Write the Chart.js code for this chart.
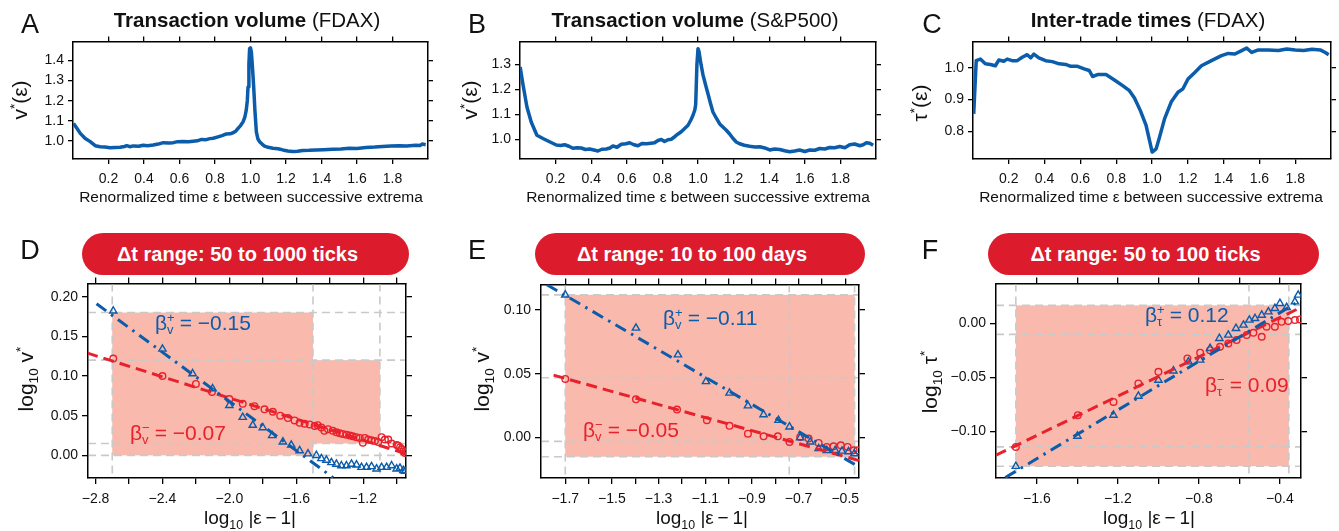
<!DOCTYPE html>
<html>
<head>
<meta charset="utf-8">
<script src="https://cdn.jsdelivr.net/npm/chart.js@4.4.1/dist/chart.umd.min.js"></script>
<style>
  body { margin: 0; background: #fff; }
  #fig { position: relative; width: 1339px; height: 531px; overflow: hidden; font-family: "Liberation Sans", Arial, sans-serif; color: #111; }
  #fig canvas { position: absolute; }
  .lbl { position: absolute; white-space: nowrap; transform: translate(-50%, -50%); }
  .letter { font-size: 27px; }
  .title { font-size: 20.5px; }
  .xt { font-size: 15.5px; }
  .xt2 { font-size: 19px; }
  .yt { font-size: 21px; transform: translate(-50%, -50%) rotate(-90deg); }
  .pill { position: absolute; height: 42px; border-radius: 21px; background: #dc1b2d; color: #fff; font-weight: bold; font-size: 20px; line-height: 42px; text-align: center; box-sizing: border-box; padding-right: 16px; }
  .ann { position: absolute; white-space: nowrap; font-size: 21px; transform: translateY(-50%); }
  .ss { display: inline-block; vertical-align: middle; font-size: 0.62em; line-height: 0.95; text-align: left; margin-right: 5px; }
  .ss span { display: block; }
  sub, sup { font-size: 0.65em; line-height: 0; }
</style>
</head>
<body>
<div id="fig">
  <canvas id="cA"></canvas>
  <canvas id="cB"></canvas>
  <canvas id="cC"></canvas>
  <canvas id="cD"></canvas>
  <canvas id="cE"></canvas>
  <canvas id="cF"></canvas>

  <div class="lbl letter" style="left:30px;top:24px">A</div>
  <div class="lbl letter" style="left:477px;top:24px">B</div>
  <div class="lbl letter" style="left:932px;top:24px">C</div>
  <div class="lbl letter" style="left:30px;top:250px">D</div>
  <div class="lbl letter" style="left:477px;top:250px">E</div>
  <div class="lbl letter" style="left:930px;top:250px">F</div>

  <div class="lbl title" style="left:247px;top:20px"><b>Transaction volume</b> (FDAX)</div>
  <div class="lbl title" style="left:695px;top:20px"><b>Transaction volume</b> (S&amp;P500)</div>
  <div class="lbl title" style="left:1148px;top:20px"><b>Inter-trade times</b> (FDAX)</div>

  <div class="lbl xt" style="left:251px;top:197px">Renormalized time ε between successive extrema</div>
  <div class="lbl xt" style="left:698px;top:197px">Renormalized time ε between successive extrema</div>
  <div class="lbl xt" style="left:1151px;top:197px">Renormalized time ε between successive extrema</div>

  <div class="lbl yt" style="left:20px;top:100px">v<sup>*</sup>(ε)</div>
  <div class="lbl yt" style="left:470px;top:100px">v<sup>*</sup>(ε)</div>
  <div class="lbl yt" style="left:920px;top:103px">τ<sup>*</sup>(ε)</div>

  <div class="pill" style="left:82px;top:233px;width:327px">Δt range: 50 to 1000 ticks</div>
  <div class="pill" style="left:535px;top:233px;width:330px">Δt range: 10 to 100 days</div>
  <div class="pill" style="left:988px;top:233px;width:331px">Δt range: 50 to 100 ticks</div>

  <div class="lbl xt2" style="left:250px;top:518px">log<sub>10</sub> |ε&#8201;−&#8201;1|</div>
  <div class="lbl xt2" style="left:702px;top:518px">log<sub>10</sub> |ε&#8201;−&#8201;1|</div>
  <div class="lbl xt2" style="left:1149px;top:518px">log<sub>10</sub> |ε&#8201;−&#8201;1|</div>

  <div class="lbl yt" style="left:26px;top:379px">log<sub>10</sub> v<sup>*</sup></div>
  <div class="lbl yt" style="left:482px;top:379px">log<sub>10</sub> v<sup>*</sup></div>
  <div class="lbl yt" style="left:930px;top:382px">log<sub>10</sub> τ<sup>*</sup></div>

  <div class="ann" style="left:155px;top:324px;color:#0b5cab">β<span class="ss"><span>+</span><span>v</span></span>= −0.15</div>
  <div class="ann" style="left:130px;top:434px;color:#e8212c">β<span class="ss"><span>−</span><span>v</span></span>= −0.07</div>
  <div class="ann" style="left:663px;top:319px;color:#0b5cab">β<span class="ss"><span>+</span><span>v</span></span>= −0.11</div>
  <div class="ann" style="left:583px;top:431px;color:#e8212c">β<span class="ss"><span>−</span><span>v</span></span>= −0.05</div>
  <div class="ann" style="left:1145px;top:316px;color:#0b5cab">β<span class="ss"><span>+</span><span>τ</span></span>= 0.12</div>
  <div class="ann" style="left:1205px;top:386px;color:#e8212c">β<span class="ss"><span>−</span><span>τ</span></span>= 0.09</div>
</div>

<script>
const FONT = '"Liberation Sans", Arial, sans-serif';
const BLUE = '#0b5cab', RED = '#e8212c', SHADE = '#f9b9ad', GUIDE = '#c9c9c9';
const PL = 70, PR = 12, PT = 12, PB = 34;

// ---- top row: renormalized time eps vs v*(eps) / tau*(eps)
const epsA = [0.003,0.022,0.041,0.069,0.097,0.125,0.153,0.18,0.209,0.237,0.265,0.29,0.303,0.32,0.34,0.37,0.396,0.42,0.452,0.48,0.509,0.54,0.565,0.59,0.621,0.65,0.677,0.70,0.724,0.75,0.771,0.79,0.817,0.84,0.864,0.885,0.902,0.918,0.93,0.945,0.958,0.968,0.976,0.982,0.986,0.991,0.995,1.0,1.005,1.01,1.018,1.025,1.033,1.042,1.051,1.065,1.079,1.1,1.126,1.155,1.182,1.21,1.238,1.265,1.294,1.33,1.369,1.41,1.463,1.51,1.556,1.6,1.65,1.7,1.744,1.79,1.837,1.88,1.931,1.955,1.968,1.987];
const volA = [1.087,1.063,1.038,1.013,0.997,0.977,0.972,0.970,0.967,0.968,0.969,0.973,0.977,0.972,0.976,0.974,0.979,0.977,0.980,0.985,0.992,0.990,0.992,0.997,0.998,0.996,0.999,1.001,1.008,1.007,1.012,1.014,1.021,1.027,1.035,1.036,1.041,1.050,1.063,1.078,1.095,1.118,1.153,1.200,1.268,1.380,1.458,1.462,1.440,1.380,1.268,1.150,1.045,1.010,0.997,0.985,0.975,0.969,0.964,0.962,0.956,0.951,0.948,0.949,0.953,0.954,0.956,0.957,0.959,0.961,0.964,0.963,0.968,0.970,0.973,0.975,0.977,0.976,0.979,0.978,0.985,0.982];

const epsB = [0.001,0.016,0.039,0.063,0.095,0.129,0.166,0.204,0.228,0.251,0.275,0.297,0.32,0.344,0.368,0.391,0.415,0.438,0.46,0.485,0.505,0.522,0.545,0.569,0.595,0.616,0.64,0.663,0.685,0.71,0.735,0.756,0.775,0.794,0.812,0.831,0.85,0.869,0.888,0.906,0.925,0.944,0.96,0.972,0.982,0.987,0.994,1.0,1.006,1.017,1.028,1.042,1.056,1.07,1.084,1.103,1.122,1.14,1.159,1.178,1.197,1.215,1.234,1.26,1.29,1.32,1.347,1.375,1.403,1.43,1.459,1.487,1.515,1.543,1.571,1.6,1.628,1.656,1.684,1.712,1.74,1.768,1.796,1.825,1.852,1.88,1.909,1.928,1.946,1.965,1.984];
const volB = [1.29,1.223,1.130,1.070,1.017,1.004,0.991,0.978,0.976,0.979,0.973,0.965,0.967,0.966,0.960,0.962,0.958,0.954,0.961,0.962,0.966,0.974,0.969,0.981,0.983,0.987,0.979,0.975,0.984,0.983,0.985,0.987,0.996,1.000,0.992,0.999,1.001,1.011,1.022,1.031,1.044,1.057,1.078,1.097,1.118,1.140,1.300,1.363,1.350,1.300,1.258,1.220,1.183,1.145,1.110,1.085,1.062,1.050,1.037,1.022,1.004,0.990,0.983,0.977,0.973,0.970,0.971,0.966,0.958,0.962,0.960,0.955,0.951,0.954,0.958,0.952,0.958,0.957,0.964,0.962,0.968,0.967,0.972,0.967,0.979,0.982,0.975,0.979,0.987,0.985,0.977];

const epsC = [0.004,0.018,0.041,0.069,0.097,0.125,0.144,0.172,0.191,0.219,0.247,0.275,0.303,0.322,0.34,0.368,0.406,0.443,0.481,0.518,0.546,0.584,0.621,0.649,0.668,0.696,0.743,0.79,0.836,0.874,0.902,0.935,0.967,0.986,1.001,1.023,1.042,1.07,1.107,1.145,1.173,1.201,1.239,1.276,1.332,1.388,1.426,1.463,1.501,1.529,1.557,1.594,1.65,1.706,1.753,1.8,1.847,1.894,1.94,1.968,1.987];
const tauC = [0.855,1.023,1.028,1.013,1.011,1.007,1.025,1.021,1.028,1.023,1.023,1.034,1.042,1.032,1.044,1.032,1.023,1.020,1.013,1.011,1.005,1.005,0.997,0.992,0.973,0.979,0.979,0.962,0.944,0.928,0.905,0.865,0.818,0.771,0.734,0.744,0.781,0.839,0.892,0.923,0.934,0.965,0.986,1.007,1.023,1.039,1.046,1.044,1.055,1.063,1.049,1.057,1.057,1.055,1.060,1.057,1.055,1.059,1.057,1.049,1.042];

const epsTicks = [0.2,0.4,0.6,0.8,1.0,1.2,1.4,1.6,1.8];
const yTicksA = [1.0,1.1,1.2,1.3,1.4];
const yTicksB = [1.0,1.1,1.2,1.3];
const yTicksC = [0.8,0.9,1.0];

// ---- bottom row: log10|eps-1| vs log10 v* / tau*  (circles = before extremum, triangles = after)
const xCircD = [-2.694,-2.4,-2.2,-2.104,-2.0,-1.92,-1.85,-1.79,-1.74,-1.696,-1.65,-1.61,-1.58,-1.55,-1.52,-1.49,-1.472,-1.45,-1.432,-1.41,-1.382,-1.36,-1.34,-1.322,-1.30,-1.28,-1.262,-1.24,-1.22,-1.202,-1.19,-1.17,-1.15,-1.13,-1.11,-1.09,-1.07,-1.05,-1.03,-1.0,-0.99,-0.98,-0.97,-0.96,-0.95];
const yCircD = [0.122,0.100,0.090,0.080,0.071,0.065,0.062,0.058,0.055,0.050,0.047,0.044,0.041,0.040,0.039,0.037,0.038,0.035,0.031,0.033,0.031,0.029,0.028,0.027,0.026,0.025,0.024,0.023,0.022,0.016,0.022,0.020,0.019,0.018,0.017,0.023,0.020,0.020,0.015,0.013,0.012,0.010,0.008,0.005,0.003];
const xTriD = [-2.694,-2.4,-2.22,-2.1,-2.0,-1.92,-1.86,-1.80,-1.744,-1.68,-1.63,-1.58,-1.53,-1.48,-1.45,-1.42,-1.39,-1.36,-1.33,-1.3,-1.27,-1.24,-1.21,-1.18,-1.15,-1.12,-1.09,-1.06,-1.03,-1.0,-0.98,-0.96,-0.95];
const yTriD = [0.182,0.134,0.103,0.084,0.063,0.048,0.038,0.035,0.025,0.017,0.013,0.006,0.002,0.000,-0.004,-0.006,-0.009,-0.011,-0.013,-0.013,-0.011,-0.012,-0.015,-0.015,-0.014,-0.017,-0.015,-0.015,-0.013,-0.017,-0.016,-0.019,-0.020];
const fitXRedD = [-2.85,-0.944], fitYRedD = [0.129,0.002];
const fitXBlueD = [-2.794,-1.38], fitYBlueD = [0.191,-0.028];
const shadeD = [[-2.7,-1.5,0,0.18],[-1.5,-1.1,0.015,0.12]];
const guideXD = [-2.7,-1.5,-1.1], guideYD = [0.18,0.12,0.015,0];
const xTicksD = [-2.8,-2.6,-2.4,-2.2,-2.0,-1.8,-1.6,-1.4,-1.2,-1.0];
const xLabelsD = [-2.8,-2.4,-2.0,-1.6,-1.2];
const yTicksD = [0,0.05,0.10,0.15,0.20];

const xCircE = [-1.7,-1.397,-1.221,-1.093,-0.996,-0.917,-0.85,-0.789,-0.739,-0.693,-0.657,-0.614,-0.579,-0.55,-0.519,-0.49,-0.464,-0.447];
const yCircE = [0.046,0.030,0.022,0.0136,0.0092,0.0031,0.001,0.001,-0.0034,0.0005,-0.0008,-0.0042,-0.0073,-0.0068,-0.006,-0.0073,-0.010,-0.010];
const xTriE = [-1.7,-1.397,-1.217,-1.097,-0.996,-0.917,-0.85,-0.786,-0.739,-0.693,-0.65,-0.614,-0.579,-0.543,-0.514,-0.486,-0.461];
const yTriE = [0.112,0.086,0.065,0.044,0.035,0.025,0.018,0.0136,0.0084,0.0,-0.0034,-0.0086,-0.010,-0.010,-0.0105,-0.011,-0.0126];
const fitXRedE = [-1.75,-0.441], fitYRedE = [0.049,-0.018];
const fitXBlueE = [-1.779,-0.441], fitYBlueE = [0.120,-0.023];
const shadeE = [[-1.7,-0.46,-0.015,0.112]];
const guideXE = [-1.7,-0.74,-0.46], guideYE = [0.112,0.047,-0.003,-0.015];
const xTicksE = [-1.7,-1.6,-1.5,-1.4,-1.3,-1.2,-1.1,-1.0,-0.9,-0.8,-0.7,-0.6,-0.5];
const xLabelsE = [-1.7,-1.5,-1.3,-1.1,-0.9,-0.7,-0.5];
const yTicksE = [0,0.05,0.10];

const xCircF = [-1.704,-1.398,-1.222,-1.099,-1.0,-0.857,-0.794,-0.745,-0.696,-0.655,-0.614,-0.564,-0.531,-0.49,-0.466,-0.425,-0.392,-0.359,-0.326,-0.301];
const yCircF = [-0.1146,-0.0851,-0.0728,-0.0557,-0.0449,-0.0325,-0.0272,-0.0248,-0.0217,-0.0186,-0.0155,-0.0108,-0.0087,-0.0124,-0.0031,-0.0031,0.0015,0.0022,0.0031,0.0037];
const xTriF = [-1.704,-1.4,-1.222,-1.099,-1.0,-0.926,-0.852,-0.794,-0.745,-0.699,-0.655,-0.617,-0.58,-0.551,-0.523,-0.49,-0.457,-0.425,-0.4,-0.367,-0.326,-0.31];
const yTriF = [-0.1325,-0.1046,-0.0851,-0.0675,-0.0526,-0.044,-0.0356,-0.034,-0.0232,-0.0139,-0.0108,-0.0046,-0.0015,0.0031,0.0046,0.0077,0.0108,0.0139,0.0186,0.0149,0.0201,0.0263];
const fitXRedF = [-1.802,-0.296], fitYRedF = [-0.1223,0.0149];
const fitXBlueF = [-1.756,-0.296], fitYBlueF = [-0.143,0.0217];
const shadeF = [[-1.704,-0.356,-0.1325,0.0167]];
const guideXF = [-1.704,-0.553,-0.356], guideYF = [0.0167,-0.0102,-0.1145,-0.1325];
const xTicksF = [-1.6,-1.4,-1.2,-1.0,-0.8,-0.6,-0.4];
const xLabelsF = [-1.6,-1.2,-0.8,-0.4];
const yTicksF = [-0.10,-0.05,0];

const pts = (xs, ys) => xs.map((x, i) => ({ x, y: ys[i] }));
const fmt = d => v => (v < -1e-9 ? '\u2212' : '') + Math.abs(v).toFixed(d);
const only = (list, f) => v => list.some(u => Math.abs(u - v) < 1e-6) ? f(v) : '';

// shaded fit windows + dashed guide lines, placed with the chart scales
const bands = {
  id: 'bands',
  beforeDatasetsDraw(chart, args, o) {
    if (!o.rects) return;
    const { ctx, chartArea: a, scales: { x, y } } = chart;
    ctx.save();
    ctx.beginPath();
    ctx.rect(a.left + 1, a.top + 1, a.width - 2, a.height - 2);
    ctx.clip();
    ctx.fillStyle = SHADE;
    o.rects.forEach(r => {
      const x0 = x.getPixelForValue(r[0]), x1 = x.getPixelForValue(r[1]);
      const y0 = y.getPixelForValue(r[2]), y1 = y.getPixelForValue(r[3]);
      ctx.fillRect(x0, y1, x1 - x0, y0 - y1);
    });
    ctx.strokeStyle = GUIDE;
    ctx.lineWidth = 1.6;
    ctx.setLineDash([8, 5]);
    o.vx.forEach(v => {
      const p = x.getPixelForValue(v);
      ctx.beginPath(); ctx.moveTo(p, a.top); ctx.lineTo(p, a.bottom); ctx.stroke();
    });
    o.hy.forEach(v => {
      const p = y.getPixelForValue(v);
      ctx.beginPath(); ctx.moveTo(a.left, p); ctx.lineTo(a.right, p); ctx.stroke();
    });
    ctx.restore();
  }
};

function scales(s) {
  const grid = { display: true, drawOnChartArea: false, drawTicks: true, tickLength: s.tickLen, tickWidth: 1.3, lineWidth: 1.3, color: '#000' };
  const border = { display: true, color: '#000', width: 1.5 };
  const font = { family: FONT, size: s.tickSize };
  const fix = arr => sc => { sc.ticks = arr.map(v => ({ value: v })); };
  const hide = { autoSkip: false, callback: () => '' };
  return {
    x: { type: 'linear', position: 'bottom', min: s.xr[0], max: s.xr[1], grid, border,
         afterBuildTicks: fix(s.xt), afterFit: sc => { sc.height = PB; },
         ticks: { autoSkip: false, maxRotation: 0, padding: s.xPad, color: '#111', font, callback: s.xf } },
    x2: { type: 'linear', position: 'top', min: s.xr[0], max: s.xr[1], grid, border,
          afterBuildTicks: fix(s.xt), afterFit: sc => { sc.height = PT; }, ticks: hide },
    y: { type: 'linear', position: 'left', min: s.yr[0], max: s.yr[1], grid, border,
         afterBuildTicks: fix(s.yt), afterFit: sc => { sc.width = PL; },
         ticks: { autoSkip: false, padding: 4, color: '#111', font, callback: s.yf } },
    y2: { type: 'linear', position: 'right', min: s.yr[0], max: s.yr[1], grid, border,
          afterBuildTicks: fix(s.yt), afterFit: sc => { sc.width = PR; }, ticks: hide }
  };
}

function place(id, box) {
  const cv = document.getElementById(id);
  const w = box[2] - box[0] + PL + PR, h = box[3] - box[1] + PT + PB;
  cv.width = w; cv.height = h;
  cv.style.left = (box[0] - PL) + 'px';
  cv.style.top = (box[1] - PT) + 'px';
  cv.style.width = w + 'px';
  cv.style.height = h + 'px';
  return cv;
}

const base = {
  responsive: false,
  animation: false,
  layout: { padding: 0, autoPadding: false },
  plugins: { legend: { display: false }, tooltip: { enabled: false } }
};

function topPanel(id, box, xs, ys, yr, yt) {
  new Chart(place(id, box), {
    type: 'line',
    data: { datasets: [{ data: pts(xs, ys), borderColor: BLUE, borderWidth: 3.5, pointRadius: 0, fill: false, tension: 0, borderJoinStyle: 'round' }] },
    options: { ...base, scales: scales({ xr: [0, 2], yr, xt: epsTicks, yt, xf: fmt(1), yf: fmt(1), tickSize: 14, tickLen: 5, xPad: 7 }) }
  });
}

function bottomPanel(id, box, d) {
  new Chart(place(id, box), {
    type: 'scatter',
    data: { datasets: [
      { data: pts(d.fbx, d.fby), showLine: true, borderColor: BLUE, borderWidth: 3, borderDash: [12, 6, 2.5, 6], pointRadius: 0, clip: 0 },
      { data: pts(d.frx, d.fry), showLine: true, borderColor: RED, borderWidth: 3, borderDash: [11, 6], pointRadius: 0, clip: 0 },
      { data: pts(d.tx, d.ty), pointStyle: 'triangle', pointRadius: 4.2, borderWidth: 1.4, borderColor: BLUE, backgroundColor: 'rgba(0,0,0,0)' },
      { data: pts(d.cx, d.cy), pointStyle: 'circle', pointRadius: 3.3, borderWidth: 1.4, borderColor: RED, backgroundColor: 'rgba(0,0,0,0)' }
    ] },
    options: { ...base,
      plugins: { ...base.plugins, bands: { rects: d.shade, vx: d.gx, hy: d.gy } },
      scales: scales({ xr: d.xr, yr: d.yr, xt: d.xt, yt: d.yt, xf: only(d.xl, fmt(1)), yf: fmt(2), tickSize: 14, tickLen: 6, xPad: 7 }) },
    plugins: [bands]
  });
}

topPanel('cA', [73, 41, 428, 159], epsA, volA, [0.911, 1.494], yTicksA);
topPanel('cB', [520, 41, 876, 159], epsB, volB, [0.922, 1.392], yTicksB);
topPanel('cC', [973, 41, 1331, 159], epsC, tauC, [0.712, 1.084], yTicksC);

bottomPanel('cD', [88, 283, 406, 478], {
  cx: xCircD, cy: yCircD, tx: xTriD, ty: yTriD,
  frx: fitXRedD, fry: fitYRedD, fbx: fitXBlueD, fby: fitYBlueD,
  shade: shadeD, gx: guideXD, gy: guideYD,
  xr: [-2.845, -0.944], yr: [-0.0285, 0.2167], xt: xTicksD, xl: xLabelsD, yt: yTicksD
});
bottomPanel('cE', [541, 284, 859, 478], {
  cx: xCircE, cy: yCircE, tx: xTriE, ty: yTriE,
  frx: fitXRedE, fry: fitYRedE, fbx: fitXBlueE, fby: fitYBlueE,
  shade: shadeE, gx: guideXE, gy: guideYE,
  xr: [-1.804, -0.441], yr: [-0.0317, 0.1202], xt: xTicksE, xl: xLabelsE, yt: yTicksE
});
bottomPanel('cF', [996, 283, 1301, 478], {
  cx: xCircF, cy: yCircF, tx: xTriF, ty: yTriF,
  frx: fitXRedF, fry: fitYRedF, fbx: fitXBlueF, fby: fitYBlueF,
  shade: shadeF, gx: guideXF, gy: guideYF,
  xr: [-1.802, -0.296], yr: [-0.1434, 0.0371], xt: xTicksF, xl: xLabelsF, yt: yTicksF
});
</script>
</body>
</html>
